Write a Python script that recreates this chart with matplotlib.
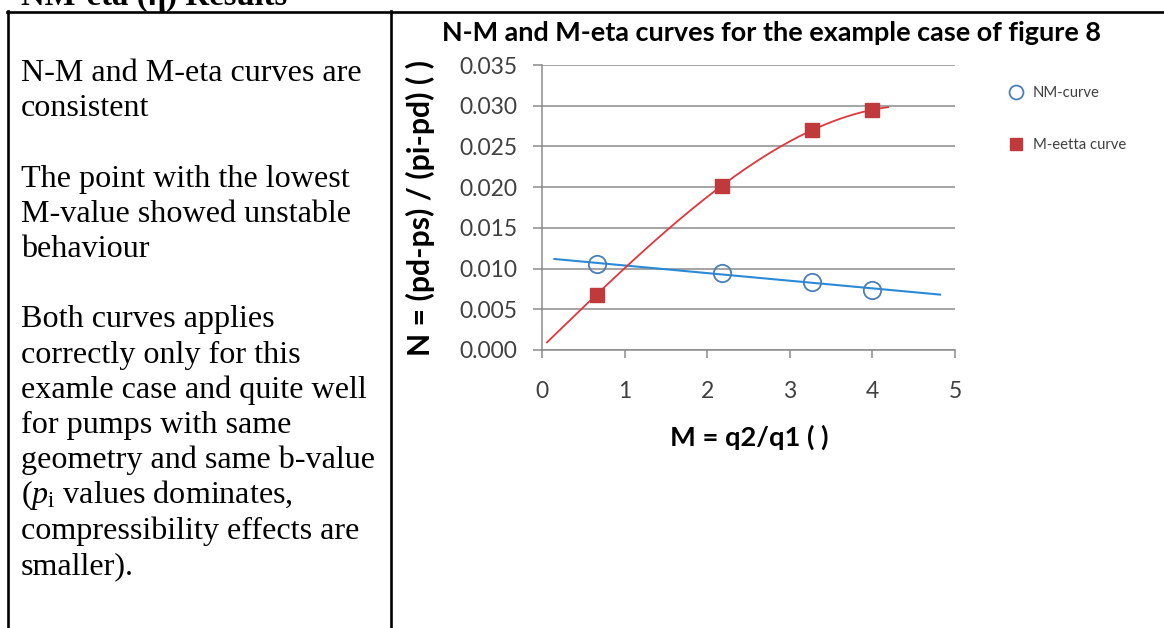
import numpy as np
import matplotlib
matplotlib.use("Agg")
import matplotlib.pyplot as plt
from matplotlib.lines import Line2D

# ---------------- data ----------------
m_nm = [0.66, 2.18, 3.27, 4.00]
n_nm = [0.0106, 0.0094, 0.0084, 0.0074]
m_eta = [0.66, 2.18, 3.27, 4.00]
n_eta = [0.0068, 0.0202, 0.0270, 0.0295]
nm_trend_range = [0.15, 4.82]
eta_trend_range = [0.06, 4.19]
x_ticks = [0, 1, 2, 3, 4, 5]
y_ticks = [0.000, 0.005, 0.010, 0.015, 0.020, 0.025, 0.030, 0.035]
y_tick_labels = ["%.3f" % v for v in y_ticks]
series_labels = ["NM-curve", "M-eetta curve"]
chart_title = "N-M and M-eta curves for the example case of figure 8"
x_label = "M = q2/q1 ( )"
y_label = "N = (pd-ps) / (pi-pd) ( )"
heading = "NM-eta (\u03b7) Results"
cell_lines = [
    "N-M and M-eta curves are",
    "consistent",
    "",
    "The point with the lowest",
    "M-value showed unstable",
    "behaviour",
    "",
    "Both curves applies",
    "correctly only for this",
    "examle case and quite well",
    "for pumps with same",
    "geometry and same b-value",
    r"($p_{\mathrm{i}}$ values dominates,",
    "compressibility effects are",
    "smaller).",
]

# ---------------- figure ----------------
W, H = 1164, 628
plt.rcParams["mathtext.fontset"] = "custom"
plt.rcParams["mathtext.rm"] = "Liberation Serif"
plt.rcParams["mathtext.it"] = "Liberation Serif:italic"
fig = plt.figure(figsize=(W / 100, H / 100), dpi=100)
renderer = fig.canvas.get_renderer()


def fx(px):
    return px / W


def fy(py):
    return 1 - py / H


def fit(t, target, horizontal=True):
    bb = t.get_window_extent(renderer)
    cur = bb.width if horizontal else bb.height
    t.set_fontsize(t.get_fontsize() * target / cur)
    return t.get_fontsize()


# table borders
lw_border = 1.9
fig.add_artist(Line2D([fx(7), fx(1164)], [fy(11.5), fy(11.5)], color="black", lw=lw_border))
fig.add_artist(Line2D([fx(8), fx(8)], [fy(11), fy(628)], color="black", lw=lw_border))
fig.add_artist(Line2D([fx(391), fx(391)], [fy(11), fy(628)], color="black", lw=lw_border))

# heading (cut at top, as in the source page)
th = fig.text(fx(21), fy(5), heading, family="Liberation Serif", weight="bold",
              fontsize=20, va="baseline", ha="left")
fit(th, 266)

# left cell text
serif = "Liberation Serif"
t0 = fig.text(0, 0, cell_lines[0], family=serif, fontsize=20)
fs_body = fit(t0, 341)
t0.remove()
first_base = 81
spacing = 35.2
for i, line in enumerate(cell_lines):
    if line:
        fig.text(fx(21), fy(first_base + i * spacing), line, family=serif,
                 fontsize=fs_body, va="baseline", ha="left", color="black")

# ---------------- chart ----------------
sans = "Lato"
ax = fig.add_axes([fx(542), fy(350), fx(955 - 542), (350 - 65) / H])
ax.set_xlim(0, 5)
ax.set_ylim(0, 0.035)

grid_col = "#8c8c8c"
ax.set_axisbelow(True)
ax.yaxis.grid(True, color=grid_col, lw=1.1)
for s in ["top", "right"]:
    ax.spines[s].set_visible(False)
for s in ["left", "bottom"]:
    ax.spines[s].set_color(grid_col)
    ax.spines[s].set_linewidth(1.1)

tmp = fig.text(0, 0, "0.035", family=sans, fontsize=14)
fs_tick = fit(tmp, 59)
tmp.remove()

ax.set_xticks(x_ticks)
ax.set_xticklabels([str(v) for v in x_ticks])
ax.set_yticks(y_ticks)
ax.set_yticklabels(y_tick_labels)
for lab in ax.get_xticklabels() + ax.get_yticklabels():
    lab.set_family(sans)
    lab.set_fontsize(fs_tick)
    lab.set_color("#404040")
ax.tick_params(axis="y", direction="out", length=6.5, width=1.1, color=grid_col, pad=11.5)
ax.tick_params(axis="x", direction="out", length=5.5, width=1.1, color=grid_col, pad=17)

# trendlines computed from the data
nm_coef = np.polyfit(m_nm, n_nm, 1)
xs_nm = np.linspace(nm_trend_range[0], nm_trend_range[1], 100)
ax.plot(xs_nm, np.polyval(nm_coef, xs_nm), color="#2b8ad6", lw=1.5, zorder=3)
eta_coef = np.polyfit(m_eta, n_eta, 3)
xs_eta = np.linspace(eta_trend_range[0], eta_trend_range[1], 200)
ax.plot(xs_eta, np.polyval(eta_coef, xs_eta), color="#e2363c", lw=1.3, zorder=3)

h1, = ax.plot(m_nm, n_nm, linestyle="none", marker="o", markersize=12.5,
              markerfacecolor="none", markeredgecolor="#4a7ebb", markeredgewidth=1.3,
              zorder=4, label=series_labels[0], clip_on=False)
h2, = ax.plot(m_eta, n_eta, linestyle="none", marker="s", markersize=10,
              markerfacecolor="#c0393b", markeredgecolor="#c0393b",
              zorder=4, label=series_labels[1], clip_on=False)

# titles / labels
tt = fig.text(fx(771), fy(33), chart_title, family=sans, weight="bold",
              fontsize=16, ha="center", va="center", color="black")
fit(tt, 661)
ty = fig.text(fx(420), fy(207.5), y_label, family=sans, weight="bold",
              fontsize=16, ha="center", va="center", rotation=90, color="black")
fit(ty, 295, horizontal=False)
tx = fig.text(fx(749), fy(437), x_label, family=sans, weight="bold",
              fontsize=16, ha="center", va="center", color="black")
fit(tx, 158)

# legend
tmp = fig.text(0, 0, series_labels[0], family=sans, fontsize=10)
fs_leg = fit(tmp, 67)
tmp.remove()
leg = fig.legend(handles=[h1, h2], labels=series_labels, loc="upper left",
                 bbox_to_anchor=(fx(1009), fy(86)), frameon=False,
                 prop={"family": sans, "size": fs_leg}, handlelength=1.0,
                 handletextpad=0.6, labelspacing=2.55, borderpad=0, borderaxespad=0,
                 markerscale=0.8)
for t in leg.get_texts():
    t.set_color("#404040")

fig.savefig("out.png", dpi=100)
